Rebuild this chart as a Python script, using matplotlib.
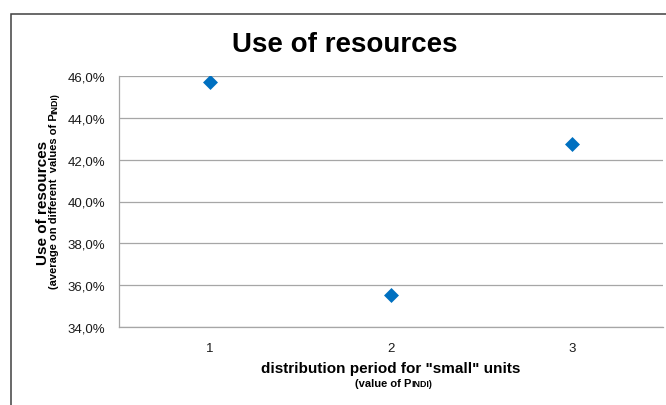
import matplotlib
matplotlib.use("Agg")
import matplotlib.pyplot as plt
from matplotlib import font_manager
from matplotlib.patches import Rectangle
from matplotlib.ticker import FuncFormatter, MultipleLocator

# data
periods = [1, 2, 3]
use_pct = [45.7, 35.55, 42.75]

title = "Use of resources"
xlabel = 'distribution period for "small" units'
xsub = ("(value of P", "INDI)")
ylabel = "Use of resources"
ysub = ("(average on different  values of P", "INDI)")

W, H = 666, 406
plt.rcParams["font.family"] = ["Liberation Sans", "DejaVu Sans"]

try:
    font_manager.findfont(font_manager.FontProperties(family="Liberation Sans Narrow", weight="bold"),
                          fallback_to_default=False)
    title_font = dict(family=["Liberation Sans Narrow", "Liberation Sans"], size=24)
except ValueError:
    title_font = dict(family=["Liberation Sans", "DejaVu Sans"], size=20)

fig = plt.figure(figsize=(W / 100, H / 100), dpi=100)
ax = fig.add_axes([119 / W, 1 - 328 / H, (663 - 119) / W, (328 - 77) / H])

ax.scatter(periods, use_pct, marker="D", s=58, color="#0070C0", zorder=3, linewidths=0)

ax.set_xlim(0.5, 3.5)
ax.set_ylim(34, 46)
ax.xaxis.set_major_locator(MultipleLocator(1))
ax.yaxis.set_major_locator(MultipleLocator(2))
ax.yaxis.set_major_formatter(FuncFormatter(lambda v, p: f"{v:.1f}%".replace(".", ",")))
ax.grid(axis="y", color="#a6a6a6", lw=0.9)
ax.set_axisbelow(True)
ax.tick_params(axis="both", length=0, labelsize=9.5, colors="#1a1a1a")
ax.tick_params(axis="y", pad=10)
ax.tick_params(axis="x", pad=10.5)
for s in ["top", "right"]:
    ax.spines[s].set_visible(False)
for s in ["left", "bottom"]:
    ax.spines[s].set_color("#a6a6a6")
    ax.spines[s].set_linewidth(0.9)

# outer chart frame (cut off at right and bottom in the reference)
fig.patches.append(Rectangle((11 / W, -0.1), 1.2, 1.1 - 14.5 / H, transform=fig.transFigure,
                             fill=False, edgecolor="#404040", lw=1.1))

fig.text(345 / W, (H - 52) / H, title, ha="center", va="baseline", weight="bold", **title_font)

fig.text(391 / W, (H - 373) / H, xlabel, ha="center", va="baseline", weight="bold", size=11)
fig.text(47 / W, (H - 203) / H, ylabel, ha="center", va="baseline", weight="bold", size=11,
         rotation=90, rotation_mode="anchor")

# sub labels with small caps tail, laid out from measured widths
fig.canvas.draw()
r = fig.canvas.get_renderer()

a = fig.text(0, 0, xsub[0], ha="left", va="baseline", weight="bold", size=8)
b = fig.text(0, 0, xsub[1], ha="left", va="baseline", weight="bold", size=6.4)
wa = a.get_window_extent(r).width
wb = b.get_window_extent(r).width
x0 = 394 - (wa + wb) / 2
a.set_position((x0 / W, (H - 387) / H))
b.set_position(((x0 + wa) / W, (H - 387) / H))

c = fig.text(0, 0, ysub[0], ha="left", va="baseline", weight="bold", size=8, rotation=90, rotation_mode="anchor")
d = fig.text(0, 0, ysub[1], ha="left", va="baseline", weight="bold", size=6.4, rotation=90, rotation_mode="anchor")
hc = c.get_window_extent(r).height
hd = d.get_window_extent(r).height
y0 = (H - 191) - (hc + hd) / 2
c.set_position((57 / W, y0 / H))
d.set_position((57 / W, (y0 + hc) / H))

fig.savefig("out.png", dpi=100)
